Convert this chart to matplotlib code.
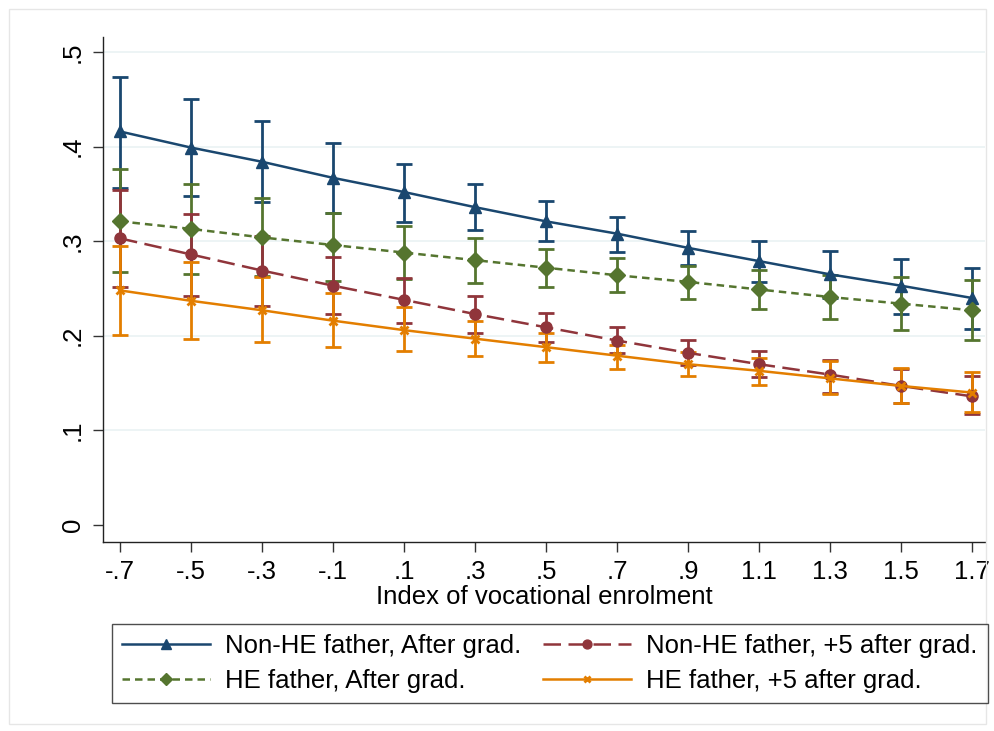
import matplotlib
matplotlib.use("Agg")
import matplotlib.pyplot as plt
import matplotlib.patches as mpatches
import numpy as np

plt.rcParams["font.family"] = ["Liberation Sans", "DejaVu Sans"]

# Index of vocational enrolment (x positions of the margins)
x_vals = [-0.7, -0.5, -0.3, -0.1, 0.1, 0.3, 0.5, 0.7, 0.9, 1.1, 1.3, 1.5, 1.7]
x_ticklabels = ["-.7", "-.5", "-.3", "-.1", ".1", ".3", ".5", ".7", ".9",
                "1.1", "1.3", "1.5", "1.7"]

# Non-HE father, After grad.
nonhe_after = [0.416, 0.399, 0.384, 0.367, 0.352, 0.336, 0.321, 0.308, 0.293, 0.279, 0.265, 0.253, 0.240]
nonhe_after_hi = [0.474, 0.450, 0.427, 0.404, 0.382, 0.361, 0.342, 0.326, 0.311, 0.300, 0.290, 0.281, 0.272]
nonhe_after_lo = [0.356, 0.348, 0.341, 0.330, 0.320, 0.312, 0.300, 0.289, 0.275, 0.257, 0.240, 0.223, 0.207]

# HE father, After grad.
he_after = [0.321, 0.313, 0.304, 0.296, 0.288, 0.280, 0.272, 0.264, 0.257, 0.249, 0.241, 0.234, 0.227]
he_after_hi = [0.376, 0.360, 0.346, 0.330, 0.316, 0.303, 0.292, 0.282, 0.274, 0.270, 0.264, 0.262, 0.259]
he_after_lo = [0.267, 0.265, 0.263, 0.258, 0.260, 0.256, 0.252, 0.246, 0.239, 0.228, 0.218, 0.206, 0.196]

# Non-HE father, +5 after grad.
nonhe_plus5 = [0.303, 0.286, 0.269, 0.253, 0.238, 0.223, 0.209, 0.195, 0.182, 0.170, 0.159, 0.147, 0.136]
nonhe_plus5_hi = [0.354, 0.329, 0.306, 0.283, 0.261, 0.242, 0.224, 0.209, 0.196, 0.184, 0.174, 0.165, 0.158]
nonhe_plus5_lo = [0.252, 0.242, 0.232, 0.223, 0.214, 0.203, 0.193, 0.182, 0.169, 0.156, 0.140, 0.129, 0.117]

# HE father, +5 after grad.
he_plus5 = [0.248, 0.237, 0.227, 0.216, 0.206, 0.197, 0.188, 0.179, 0.170, 0.163, 0.155, 0.147, 0.140]
he_plus5_hi = [0.295, 0.278, 0.262, 0.245, 0.230, 0.216, 0.203, 0.190, 0.183, 0.177, 0.173, 0.166, 0.162]
he_plus5_lo = [0.201, 0.197, 0.193, 0.188, 0.184, 0.179, 0.172, 0.165, 0.157, 0.148, 0.138, 0.129, 0.119]

NAVY, MAROON, GREEN, ORANGE = "#1a476f", "#90353b", "#55752f", "#e37e00"

series = [
    ("Non-HE father, After grad.", nonhe_after, nonhe_after_lo, nonhe_after_hi,
     NAVY, "-", "^", 9),
    ("HE father, After grad.", he_after, he_after_lo, he_after_hi,
     GREEN, (0, (3, 2)), "D", 8),
    ("Non-HE father, +5 after grad.", nonhe_plus5, nonhe_plus5_lo, nonhe_plus5_hi,
     MAROON, (0, (7, 3)), "o", 8),
    ("HE father, +5 after grad.", he_plus5, he_plus5_lo, he_plus5_hi,
     ORANGE, "-", "x", 6),
]

FS = 18.5
W, H = 995, 731
fig = plt.figure(figsize=(W / 100, H / 100), dpi=100)
fig.patch.set_facecolor("white")
fig.add_artist(mpatches.Rectangle((0.009, 0.010), 0.982, 0.978, transform=fig.transFigure,
                                  fill=False, edgecolor="#e6e6e6", linewidth=1.0))

# plot region: x 103..985 px, y 37..542 px
ax = fig.add_axes([103 / W, 1 - 542 / H, 882 / W, 505 / H])
x = np.array(x_vals)

# confidence intervals first, then the connected margins on top
for label, y, lo, hi, col, ls, mk, ms in series:
    y, lo, hi = np.array(y), np.array(lo), np.array(hi)
    ax.errorbar(x, y, yerr=[y - lo, hi - y], fmt="none", ecolor=col,
                elinewidth=2.0, capsize=6, capthick=2.0, zorder=2)

handles = []
for label, y, lo, hi, col, ls, mk, ms in series:
    mew = 2.0 if mk == "x" else 1.0
    h, = ax.plot(x, y, color=col, linestyle=ls, linewidth=1.8, marker=mk,
                 markersize=ms, markeredgewidth=mew, markeredgecolor=col,
                 markerfacecolor=col, label=label, zorder=3)
    handles.append(h)

ax.set_xlim(-0.748, 1.737)
ax.set_ylim(-0.018, 0.5159)
ax.set_xticks(x)
ax.set_xticklabels(x_ticklabels)
ax.set_yticks([0, 0.1, 0.2, 0.3, 0.4, 0.5])
ax.set_yticklabels(["0", ".1", ".2", ".3", ".4", ".5"], rotation=90, va="center")
ax.tick_params(axis="both", labelsize=FS, length=7, width=1.0, color="#333333")
ax.tick_params(axis="x", pad=6)
ax.tick_params(axis="y", pad=6)
for yv in [0.1, 0.2, 0.3, 0.4, 0.5]:
    ax.axhline(yv, color="#eaf2f3", linewidth=1.2, zorder=0)
for sp in ("top", "right"):
    ax.spines[sp].set_visible(False)
for sp in ("left", "bottom"):
    ax.spines[sp].set_linewidth(1.0)
    ax.spines[sp].set_color("#222222")
ax.set_xlabel("Index of vocational enrolment", fontsize=FS, labelpad=1)

leg = fig.legend(handles=handles, loc="upper left", ncol=2, fontsize=FS,
                 bbox_to_anchor=(112 / W, 1 - 624 / H),
                 borderaxespad=0, frameon=True, fancybox=False,
                 edgecolor="#222222", handlelength=3.4, handletextpad=0.6,
                 columnspacing=0.85, labelspacing=0.42, borderpad=0.4,
                 numpoints=1, markerscale=0.8)
leg.get_frame().set_linewidth(1.0)

fig.savefig("out.png", dpi=100, facecolor="white")
